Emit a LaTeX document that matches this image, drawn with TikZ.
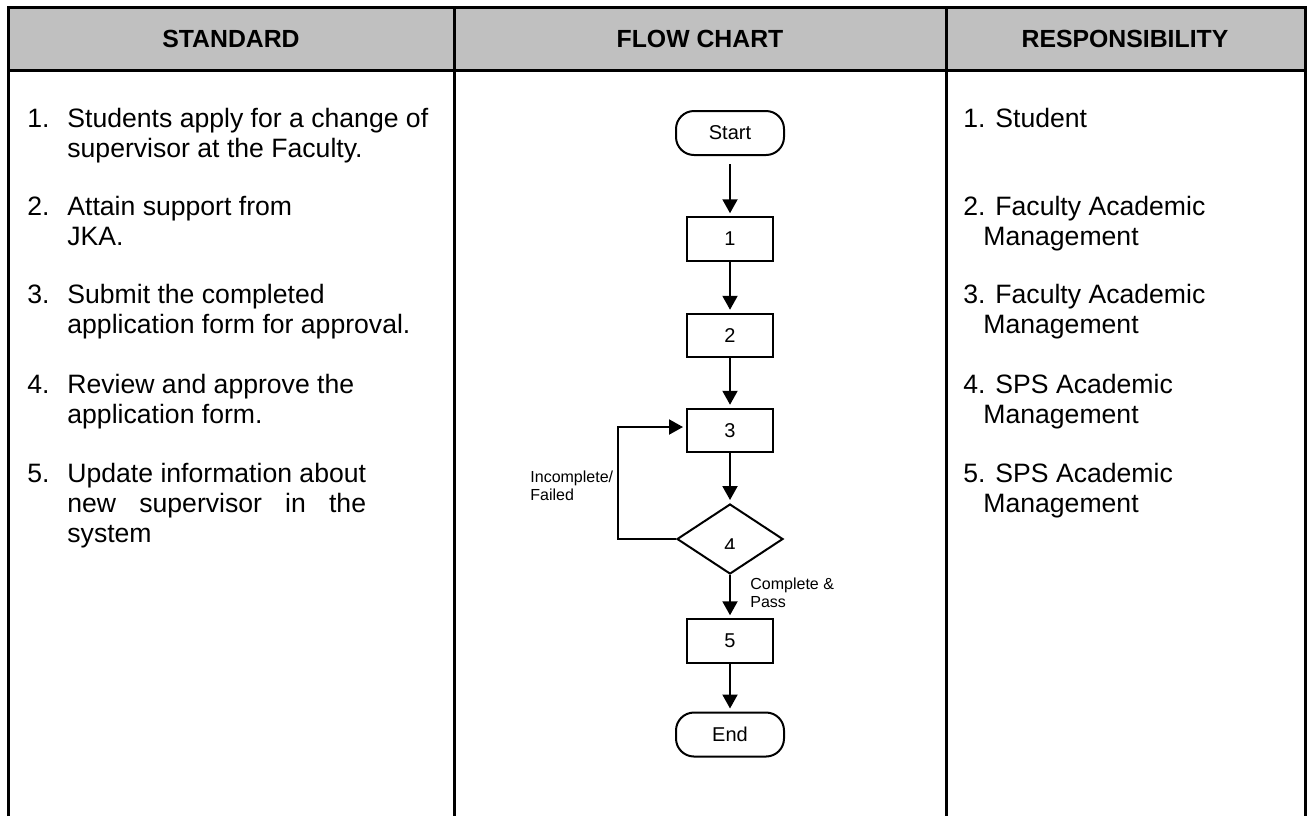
\documentclass[tikz,border=0pt]{standalone}
\usepackage{fontspec}
\setmainfont{Liberation Sans}
\usepackage{calc}
\usetikzlibrary{arrows.meta,shapes.geometric}
\definecolor{headgrey}{HTML}{C0C0C0}
\newcommand{\stack}[1]{\begin{tabular}[t]{@{}l@{}}#1\end{tabular}}

\begin{document}
\begin{tikzpicture}[x=0.5pt,y=-0.5pt,
	rule/.style={line width=1.5pt},
	box/.style={draw, line width=1pt, minimum width=43pt, minimum height=21.75pt, inner sep=0pt, font=\fontsize{10}{12}\selectfont},
	term/.style={box, rounded corners=9pt, minimum width=54pt, minimum height=22pt},
	choice/.style={draw, line width=1pt, diamond, minimum width=53pt, minimum height=35pt, inner sep=0pt},
	flow/.style={line width=1pt, -{Triangle[length=7pt,width=7.5pt]}, shorten >=1.5pt},
	head/.style={font=\fontsize{12.4}{14}\selectfont\bfseries},
	item/.style={anchor=base west, inner sep=0pt, font=\fontsize{13.3}{15}\selectfont},
	note/.style={anchor=base west, inner sep=0pt, font=\fontsize{8}{9}\selectfont}]

	\useasboundingbox (0,0) rectangle (1309,816);

	% Table
	\fill [headgrey] (8,7) rectangle (1305,70);
	\draw [rule] (8,816) -- (8,7) -- (1305,7) -- (1305,816);
	\draw [rule] (8,70) -- (1305,70);
	\draw [rule] (454,7) -- (454,816);
	\draw [rule] (946,7) -- (946,816);

	% Header
	\node [head] (hstd) at (231,39) {STANDARD};
	\node [head] (hflow) at (700,39) {FLOW CHART};
	\node [head] (hresp) at (1125,39) {RESPONSIBILITY};

	% Standard
	\node [item] (n1) at (27,127) {1.};
	\node [item] (s1) at (67,127) {\stack{Students apply for a change of\\supervisor at the Faculty.}};
	\node [item] (n2) at (27,215) {2.};
	\node [item] (s2) at (67,215) {\stack{Attain support from\\JKA.}};
	\node [item] (n3) at (27,303) {3.};
	\node [item] (s3) at (67,303) {\stack{Submit the completed\\application form for approval.}};
	\node [item] (n4) at (27,393) {4.};
	\node [item] (s4) at (67,393) {\stack{Review and approve the\\application form.}};
	\node [item] (n5) at (27,482) {5.};
	\node [item] (s5) at (67,482) {\stack{Update information about\\\makebox[\widthof{Update information about}][s]{new supervisor in the}\\system}};

	% Flow chart
	\node [term] (start) at (730,133) {Start};
	\node [box] (b1) at (730,239) {1};
	\node [box] (b2) at (730,335.5) {2};
	\node [box] (b3) at (730,430.5) {3};
	\node [choice] (b4) at (730,539) {};
	\node [box] (b5) at (730,641) {5};
	\node [term] (end) at (730,734.5) {End};

	\begin{scope}
		\clip (650,500) rectangle (810,548);
		\node [anchor=base, inner sep=0pt, font=\fontsize{10}{12}\selectfont] (l4) at (730,552) {4};
	\end{scope}

	\draw [flow, shorten <=4pt] (start) -- (b1);
	\draw [flow] (b1) -- (b2);
	\draw [flow] (b2) -- (b3);
	\draw [flow] (b3) -- (b4);
	\draw [flow] (b4) -- (b5);
	\draw [flow] (b5) -- (end);

	\coordinate (looptop) at (618,427);
	\draw [flow] (b4.west) -| (looptop) -- (b3.west |- looptop);

	\node [note] (fail) at (530,482) {\stack{Incomplete/\\Failed}};
	\node [note] (pass) at (750,589) {\stack{Complete \&\\Pass}};

	% Responsibility
	\node [item] (r1) at (963,127) {1. Student};
	\node [item] (r2) at (963,215) {\stack{2. Faculty Academic\\\hspace*{10pt}Management}};
	\node [item] (r3) at (963,303) {\stack{3. Faculty Academic\\\hspace*{10pt}Management}};
	\node [item] (r4) at (963,393) {\stack{4. SPS Academic\\\hspace*{10pt}Management}};
	\node [item] (r5) at (963,482) {\stack{5. SPS Academic\\\hspace*{10pt}Management}};

\end{tikzpicture}
\end{document}
